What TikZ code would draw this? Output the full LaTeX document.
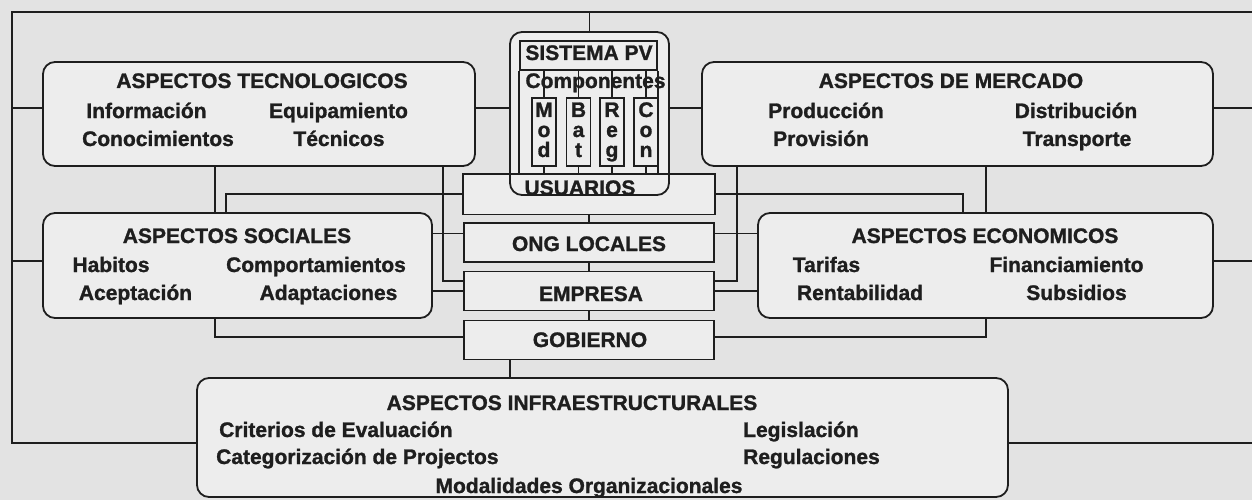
\documentclass[tikz,border=0pt]{standalone}
\usepackage{fontspec}
\setmainfont{Liberation Sans}[BoldFeatures={FakeBold=1.2}]
\usepackage{xcolor}
\usetikzlibrary{calc}

\definecolor{ink}{HTML}{1E1E1E}
\definecolor{paper}{HTML}{E3E3E3}
\definecolor{boxfill}{HTML}{EDEDED}

\tikzset{
  link/.style={draw=ink, line width=1.8pt},
  aspbox/.style={link, fill=boxfill, rounded corners=12pt, inner sep=0pt},
  actor/.style={link, fill=boxfill, minimum width=250pt, minimum height=39pt, inner sep=0pt},
  part/.style={link, minimum width=24pt, minimum height=68pt, inner sep=0pt},
  txt/.style={font=\bfseries\fontsize{21}{20}\selectfont, text=ink, inner sep=0pt, anchor=base},
  txtw/.style={txt, anchor=base west},
}

\begin{document}
\begin{tikzpicture}[x=1pt, y=-1pt]
  \useasboundingbox (0,0) rectangle (1252,500);
  \fill[paper] (0,0) rectangle (1252,500);

  % levels of the links
  \coordinate (ftl) at (12,12);
  \coordinate (edge) at (1252,12);
  \coordinate (lvA) at (0,108);
  \coordinate (lvB) at (0,261);
  \coordinate (lvC) at (0,443);
  \coordinate (xl1) at (215,0);
  \coordinate (xl2) at (443,0);
  \coordinate (xl3) at (226,0);
  \coordinate (xr1) at (986,0);
  \coordinate (xr2) at (737,0);
  \coordinate (xr3) at (963,0);
  \coordinate (xg) at (510,0);

  % aspect boxes
  \node[aspbox, minimum width=432pt, minimum height=104pt] (tec) at (259,114) {};
  \node[aspbox, minimum width=511pt, minimum height=104pt] (mrc) at (957.5,114) {};
  \node[aspbox, minimum width=389pt, minimum height=105pt] (soc) at (237.5,265.5) {};
  \node[aspbox, minimum width=455pt, minimum height=105pt] (eco) at (985.5,265.5) {};
  \node[aspbox, minimum width=811pt, minimum height=119pt] (inf) at (602.5,437.5) {};

  % actors in the middle
  \node[actor, draw=none] (usu) at (589,194) {};
  \node[actor] (ong) at (589,242.5) {};
  \node[actor] (emp) at (589,291) {};
  \node[actor] (gob) at (589,340) {};

  % PV system
  \node[aspbox, minimum width=159pt, minimum height=163pt] (spv) at (589.5,113.5) {};
  \draw[link] (usu.north west) rectangle (usu.south east);
  \node[link, minimum width=137pt, minimum height=29pt, inner sep=0pt] (pvt) at (588.5,55.5) {};
  \draw[link] (pvt.south west) -- (pvt.south west |- usu.north);
  \draw[link] (pvt.south east) -- (pvt.south east |- usu.north);
  \foreach \n/\x/\a/\b/\c in {mod/544/M/o/d, bat/578.5/B/a/t, reg/612/R/e/g, con/646/C/o/n} {
    \node[part] (\n) at (\x,132) {};
    \node[txt] (\n1) at (\x,117) {\a};
    \node[txt] (\n2) at (\x,137) {\b};
    \node[txt] (\n3) at (\x,157) {\c};
    \draw[link] (\n.north |- pvt.south) -- (\n.north);
    \draw[link] (\n.south) -- (\n.south |- usu.north);
  }
  \node[txt] (pvtT) at (589,60) {SISTEMA PV};
  \node[txt] (cmpT) at (595.5,88) {Componentes};

  % outer frame
  \draw[link] (edge) -- (ftl) -- (ftl |- lvC) -- (inf.west |- lvC);
  \draw[link] (ftl |- lvA) -- (tec.west |- lvA);
  \draw[link] (ftl |- lvB) -- (soc.west |- lvB);
  \draw[link] (spv.north) -- (spv.north |- ftl);
  \draw[link] (mrc.east |- lvA) -- (edge |- lvA);
  \draw[link] (eco.east |- lvB) -- (edge |- lvB);
  \draw[link] (inf.east |- lvC) -- (edge |- lvC);

  % links between boxes
  \coordinate (ongL) at ([yshift=9pt]ong.west);
  \coordinate (ongR) at ([yshift=9pt]ong.east);
  \coordinate (empL) at ([yshift=10pt]emp.west);
  \coordinate (empR) at ([yshift=10pt]emp.east);
  \coordinate (gobL) at ([yshift=3pt]gob.west);
  \coordinate (gobR) at ([yshift=3pt]gob.east);
  \draw[link] (tec.east |- lvA) -- (spv.west |- lvA);
  \draw[link] (spv.east |- lvA) -- (mrc.west |- lvA);
  \draw[link] (tec.south -| xl1) -- (soc.north -| xl1);
  \draw[link] (mrc.south -| xr1) -- (eco.north -| xr1);
  \draw[link] (tec.south -| xl2) |- (empL);
  \draw[link] (mrc.south -| xr2) |- (empR);
  \draw[link] (soc.north -| xl3) |- (usu.west);
  \draw[link] (eco.north -| xr3) |- (usu.east);
  \draw[link] (ongL) -- (soc.east |- ongL);
  \draw[link] (ongR) -- (eco.west |- ongR);
  \draw[link] (emp.west) -- (soc.east |- emp.west);
  \draw[link] (emp.east) -- (eco.west |- emp.east);
  \draw[link] (soc.south -| xl1) |- (gobL);
  \draw[link] (eco.south -| xr1) |- (gobR);
  \draw[link] (usu.south) -- (ong.north);
  \draw[link] (ong.south) -- (emp.north);
  \draw[link] (emp.south) -- (gob.north);
  \draw[link] (gob.south -| xg) -- (inf.north -| xg);

  % texts
  \node[txt] (usuT) at (580,195) {USUARIOS};
  \node[txt] (ongT) at (589,251) {ONG LOCALES};
  \node[txt] (empT) at (591,301) {EMPRESA};
  \node[txt] (gobT) at (590,347) {GOBIERNO};

  \node[txt] (tecT) at (262,88) {ASPECTOS TECNOLOGICOS};
  \node[txt] (tec1) at (146.5,118) {Información};
  \node[txt] (tec2) at (338.5,118) {Equipamiento};
  \node[txt] (tec3) at (158,146) {Conocimientos};
  \node[txt] (tec4) at (339,146) {Técnicos};

  \node[txt] (mrcT) at (951,88) {ASPECTOS DE MERCADO};
  \node[txt] (mrc1) at (826,118) {Producción};
  \node[txt] (mrc2) at (1076,118) {Distribución};
  \node[txt] (mrc3) at (821,146) {Provisión};
  \node[txt] (mrc4) at (1077,146) {Transporte};

  \node[txt] (socT) at (237,243) {ASPECTOS SOCIALES};
  \node[txt] (soc1) at (111,272) {Habitos};
  \node[txt] (soc2) at (316,272) {Comportamientos};
  \node[txt] (soc3) at (135.5,300) {Aceptación};
  \node[txt] (soc4) at (328.5,300) {Adaptaciones};

  \node[txt] (ecoT) at (985,243) {ASPECTOS ECONOMICOS};
  \node[txt] (eco1) at (826.5,272) {Tarifas};
  \node[txt] (eco2) at (1066.5,272) {Financiamiento};
  \node[txt] (eco3) at (860,300) {Rentabilidad};
  \node[txt] (eco4) at (1076.5,300) {Subsidios};

  \node[txt] (infT) at (572,410) {ASPECTOS INFRAESTRUCTURALES};
  \node[txtw] (inf1) at (219,437) {Criterios de Evaluación};
  \node[txtw] (inf2) at (743,437) {Legislación};
  \node[txtw] (inf3) at (216,464) {Categorización de Projectos};
  \node[txtw] (inf4) at (743,464) {Regulaciones};
  \node[txt] (inf5) at (589,493) {Modalidades Organizacionales};
\end{tikzpicture}
\end{document}
